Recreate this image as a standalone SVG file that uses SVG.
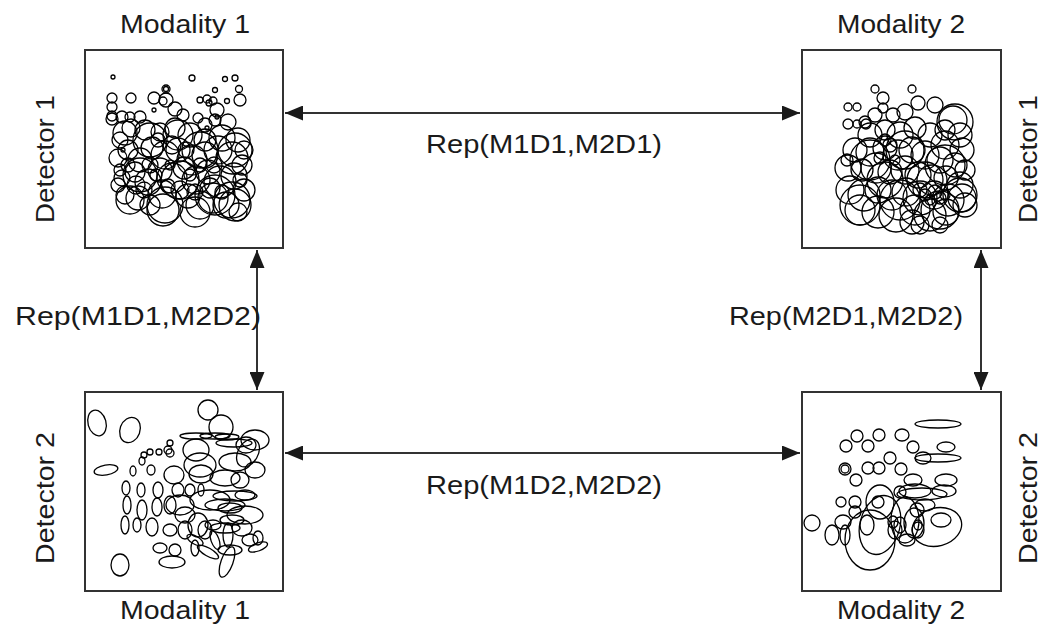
<svg xmlns="http://www.w3.org/2000/svg" width="1043" height="632" viewBox="0 0 1043 632">
  <style>
    .frame { fill: #ffffff; stroke: #333333; stroke-width: 2; }
    .blobs circle, .blobs ellipse { fill: none; stroke: #000000; stroke-width: 1.3; }
    .link { stroke: #333333; stroke-width: 2; fill: none; }
    .lbl { font-family: "Liberation Sans", Arial, sans-serif; font-size: 26px; fill: #1a1a1a; text-anchor: middle; }
  </style>
  <defs>
    <marker id="head" viewBox="0 0 18 15" refX="18" refY="7.5" markerWidth="18" markerHeight="15" markerUnits="userSpaceOnUse" orient="auto-start-reverse">
      <path d="M0,0 L18,7.5 L0,15 Z" fill="#1a1a1a"/>
    </marker>
  </defs>
  <rect width="1043" height="632" fill="#ffffff"/>

  <!-- connectors -->
  <g id="connectors">
    <line class="link" x1="285" y1="113" x2="800" y2="113" marker-start="url(#head)" marker-end="url(#head)"/>
    <line class="link" x1="285" y1="453" x2="800" y2="453" marker-start="url(#head)" marker-end="url(#head)"/>
    <line class="link" x1="257" y1="250" x2="257" y2="390" marker-start="url(#head)" marker-end="url(#head)"/>
    <line class="link" x1="981" y1="250" x2="981" y2="390" marker-start="url(#head)" marker-end="url(#head)"/>
    <text class="lbl" x="544" y="153" textLength="236" lengthAdjust="spacingAndGlyphs">Rep(M1D1,M2D1)</text>
    <text class="lbl" x="138" y="325" textLength="246" lengthAdjust="spacingAndGlyphs">Rep(M1D1,M2D2)</text>
    <text class="lbl" x="846" y="325" textLength="234" lengthAdjust="spacingAndGlyphs">Rep(M2D1,M2D2)</text>
    <text class="lbl" x="544" y="494" textLength="236" lengthAdjust="spacingAndGlyphs">Rep(M1D2,M2D2)</text>
  </g>

  <!-- modality 1, detector 1 -->
  <g id="m1d1">
    <rect class="frame" x="85" y="50" width="198" height="198"/>
    <text class="lbl" x="185" y="33" textLength="130" lengthAdjust="spacingAndGlyphs">Modality 1</text>
    <text class="lbl" transform="translate(54,159) rotate(-90)" textLength="128" lengthAdjust="spacingAndGlyphs">Detector 1</text>
    <g class="blobs">
      <circle cx="113" cy="77" r="2"/><circle cx="192" cy="78" r="3"/><circle cx="225" cy="79" r="2.5"/><circle cx="235" cy="78" r="3"/>
      <circle cx="215" cy="90" r="2.5"/><circle cx="239" cy="89" r="3.5"/><circle cx="240" cy="100" r="6"/><circle cx="166" cy="89" r="4"/><circle cx="166" cy="89" r="2.5"/>
      <circle cx="112" cy="98" r="5"/><circle cx="131" cy="98" r="5"/><circle cx="154" cy="98" r="6"/><circle cx="166" cy="100" r="7"/><circle cx="163" cy="101" r="4"/>
      <circle cx="200" cy="100" r="3"/><circle cx="207" cy="99" r="4"/><circle cx="213" cy="101" r="4"/><circle cx="209" cy="103" r="3"/><circle cx="227" cy="101" r="2.5"/>
      <circle cx="217" cy="110" r="7"/><circle cx="217" cy="117" r="2"/><circle cx="154" cy="110" r="2"/><circle cx="175" cy="109" r="7"/>
      <circle cx="112" cy="107" r="5"/><circle cx="112" cy="116" r="5"/><circle cx="122" cy="117" r="6"/><circle cx="130" cy="117" r="5"/><circle cx="140" cy="117" r="6"/><circle cx="112" cy="119" r="6"/>
      <circle cx="120" cy="140" r="8"/><circle cx="131" cy="128" r="9"/><circle cx="145" cy="130" r="10"/><circle cx="160" cy="132" r="9"/><circle cx="175" cy="128" r="10"/>
      <circle cx="190" cy="135" r="12"/><circle cx="205" cy="140" r="11"/><circle cx="222" cy="138" r="13"/><circle cx="238" cy="140" r="12"/>
      <circle cx="118" cy="158" r="9"/><circle cx="128" cy="150" r="10"/><circle cx="140" cy="160" r="12"/><circle cx="152" cy="148" r="11"/><circle cx="165" cy="155" r="14"/>
      <circle cx="178" cy="150" r="12"/><circle cx="192" cy="160" r="15"/><circle cx="205" cy="155" r="13"/><circle cx="218" cy="150" r="14"/><circle cx="232" cy="158" r="16"/><circle cx="242" cy="165" r="10"/>
      <circle cx="122" cy="178" r="8"/><circle cx="135" cy="172" r="10"/><circle cx="148" cy="182" r="13"/><circle cx="160" cy="170" r="12"/><circle cx="172" cy="178" r="15"/>
      <circle cx="184" cy="168" r="11"/><circle cx="196" cy="180" r="14"/><circle cx="208" cy="172" r="12"/><circle cx="220" cy="182" r="16"/><circle cx="234" cy="176" r="13"/><circle cx="244" cy="190" r="11"/>
      <circle cx="125" cy="195" r="9"/><circle cx="138" cy="198" r="12"/><circle cx="150" cy="205" r="10"/><circle cx="163" cy="210" r="16"/><circle cx="162" cy="194" r="14"/>
      <circle cx="188" cy="196" r="12"/><circle cx="200" cy="205" r="14"/><circle cx="213" cy="198" r="15"/><circle cx="226" cy="205" r="13"/><circle cx="232" cy="200" r="18"/><circle cx="238" cy="212" r="9"/>
      <circle cx="118" cy="185" r="7"/><circle cx="144" cy="190" r="8"/><circle cx="168" cy="186" r="7"/><circle cx="180" cy="190" r="9"/><circle cx="195" cy="192" r="8"/><circle cx="210" cy="188" r="10"/><circle cx="222" cy="192" r="7"/>
      <circle cx="156" cy="175" r="6"/><circle cx="170" cy="165" r="5"/><circle cx="190" cy="175" r="6"/><circle cx="200" cy="165" r="7"/><circle cx="214" cy="165" r="8"/>
      <circle cx="186" cy="150" r="8"/><circle cx="172" cy="145" r="9"/><circle cx="150" cy="165" r="8"/><circle cx="136" cy="185" r="9"/><circle cx="128" cy="165" r="7"/>
      <circle cx="120" cy="170" r="6"/><circle cx="240" cy="180" r="7"/><circle cx="244" cy="150" r="9"/><circle cx="158" cy="140" r="7"/><circle cx="205" cy="125" r="7"/>
      <circle cx="215" cy="120" r="6"/><circle cx="228" cy="122" r="8"/><circle cx="198" cy="118" r="5"/><circle cx="183" cy="115" r="6"/><circle cx="123" cy="150" r="2"/><circle cx="207" cy="128" r="2"/>
      <!-- larger overlapping rings -->
      <circle cx="150" cy="140" r="17"/><circle cx="200" cy="150" r="18"/><circle cx="235" cy="150" r="17"/><circle cx="180" cy="180" r="19"/>
      <circle cx="140" cy="175" r="17"/><circle cx="215" cy="195" r="20"/><circle cx="165" cy="205" r="18"/><circle cx="130" cy="200" r="14"/>
      <circle cx="235" cy="205" r="16"/><circle cx="195" cy="212" r="15"/><circle cx="125" cy="133" r="12"/><circle cx="178" cy="135" r="15"/>
    </g>
  </g>

  <!-- modality 2, detector 1 -->
  <g id="m2d1">
    <rect class="frame" x="802" y="50" width="199" height="198"/>
    <text class="lbl" x="901" y="33" textLength="128" lengthAdjust="spacingAndGlyphs">Modality 2</text>
    <text class="lbl" transform="translate(1037,159) rotate(-90)" textLength="128" lengthAdjust="spacingAndGlyphs">Detector 1</text>
    <g class="blobs">
      <circle cx="875" cy="89" r="4"/><circle cx="912" cy="89" r="4"/><circle cx="883" cy="98" r="6"/><circle cx="883" cy="108" r="5"/>
      <circle cx="848" cy="107" r="4"/><circle cx="857" cy="107" r="4"/><circle cx="848" cy="124" r="5"/><circle cx="857" cy="124" r="4"/><circle cx="866" cy="124" r="5"/>
      <circle cx="918" cy="103" r="7"/><circle cx="935" cy="105" r="8"/><circle cx="953" cy="120" r="14"/><circle cx="960" cy="135" r="12"/><circle cx="945" cy="130" r="10"/>
      <circle cx="905" cy="112" r="8"/><circle cx="893" cy="115" r="7"/><circle cx="875" cy="115" r="7"/><circle cx="865" cy="122" r="6"/>
      <circle cx="870" cy="135" r="12"/><circle cx="885" cy="130" r="10"/><circle cx="900" cy="135" r="13"/><circle cx="915" cy="128" r="11"/><circle cx="930" cy="135" r="12"/><circle cx="945" cy="145" r="14"/><circle cx="962" cy="150" r="12"/>
      <circle cx="855" cy="150" r="12"/><circle cx="870" cy="152" r="14"/><circle cx="885" cy="148" r="12"/><circle cx="898" cy="155" r="15"/><circle cx="912" cy="150" r="13"/>
      <circle cx="925" cy="155" r="14"/><circle cx="940" cy="160" r="13"/><circle cx="955" cy="165" r="12"/><circle cx="965" cy="170" r="10"/>
      <circle cx="848" cy="168" r="13"/><circle cx="862" cy="170" r="11"/><circle cx="876" cy="168" r="15"/><circle cx="890" cy="172" r="12"/><circle cx="905" cy="170" r="14"/>
      <circle cx="918" cy="175" r="13"/><circle cx="932" cy="180" r="15"/><circle cx="946" cy="178" r="12"/><circle cx="960" cy="185" r="13"/>
      <circle cx="850" cy="190" r="14"/><circle cx="864" cy="195" r="16"/><circle cx="878" cy="190" r="13"/><circle cx="892" cy="195" r="15"/><circle cx="906" cy="192" r="14"/>
      <circle cx="920" cy="198" r="17"/><circle cx="934" cy="195" r="14"/><circle cx="948" cy="200" r="16"/><circle cx="962" cy="198" r="14"/>
      <circle cx="860" cy="210" r="15"/><circle cx="878" cy="212" r="16"/><circle cx="896" cy="215" r="17"/><circle cx="915" cy="210" r="15"/><circle cx="930" cy="215" r="16"/>
      <circle cx="946" cy="212" r="13"/><circle cx="965" cy="205" r="12"/><circle cx="940" cy="225" r="8"/><circle cx="920" cy="225" r="9"/>
      <circle cx="885" cy="140" r="6"/><circle cx="890" cy="145" r="7"/><circle cx="895" cy="160" r="5"/><circle cx="880" cy="158" r="6"/><circle cx="925" cy="195" r="6"/>
      <circle cx="935" cy="192" r="7"/><circle cx="930" cy="200" r="5"/><circle cx="940" cy="198" r="6"/><circle cx="920" cy="190" r="7"/><circle cx="945" cy="195" r="5"/><circle cx="847" cy="160" r="6"/>
      <!-- larger overlapping rings -->
      <circle cx="955" cy="122" r="18"/><circle cx="870" cy="160" r="20"/><circle cx="905" cy="150" r="19"/><circle cx="945" cy="165" r="20"/>
      <circle cx="860" cy="205" r="20"/><circle cx="900" cy="200" r="20"/><circle cx="940" cy="210" r="19"/><circle cx="960" cy="195" r="17"/>
      <circle cx="885" cy="180" r="18"/><circle cx="925" cy="180" r="18"/><circle cx="912" cy="222" r="12"/>
    </g>
  </g>

  <!-- modality 1, detector 2 -->
  <g id="m1d2">
    <rect class="frame" x="85" y="392" width="198" height="199"/>
    <text class="lbl" x="185" y="619" textLength="130" lengthAdjust="spacingAndGlyphs">Modality 1</text>
    <text class="lbl" transform="translate(54,498) rotate(-90)" textLength="132" lengthAdjust="spacingAndGlyphs">Detector 2</text>
    <g class="blobs">
      <ellipse cx="97" cy="423" rx="9" ry="13" transform="rotate(-15 97 423)"/><ellipse cx="130" cy="430" rx="10" ry="13" transform="rotate(20 130 430)"/>
      <circle cx="208" cy="410" r="10"/><circle cx="221" cy="427" r="12"/><ellipse cx="215" cy="436" rx="15" ry="3"/><ellipse cx="227" cy="437" rx="12" ry="3"/>
      <ellipse cx="255" cy="440" rx="14" ry="10"/><ellipse cx="248" cy="453" rx="10" ry="15" transform="rotate(30 248 453)"/>
      <circle cx="170" cy="443" r="3"/><circle cx="168" cy="450" r="4"/><circle cx="159" cy="452" r="3"/><circle cx="150" cy="452" r="3"/><circle cx="170" cy="453" r="4"/><circle cx="144" cy="455" r="3"/>
      <ellipse cx="196" cy="450" rx="13" ry="11"/><ellipse cx="196" cy="436" rx="16" ry="3"/><ellipse cx="234" cy="443" rx="18" ry="4"/><ellipse cx="246" cy="445" rx="10" ry="8"/>
      <ellipse cx="106" cy="470" rx="12" ry="5" transform="rotate(-10 106 470)"/><ellipse cx="133" cy="471" rx="3" ry="5"/><ellipse cx="142" cy="461" rx="3" ry="4"/><ellipse cx="151" cy="470" rx="4" ry="5"/>
      <ellipse cx="174" cy="475" rx="10" ry="9"/><ellipse cx="201" cy="474" rx="12" ry="9"/><ellipse cx="225" cy="478" rx="15" ry="8"/><ellipse cx="240" cy="480" rx="9" ry="8"/><ellipse cx="255" cy="470" rx="10" ry="8"/>
      <ellipse cx="126" cy="488" rx="4" ry="7"/><ellipse cx="141" cy="490" rx="4" ry="7"/><ellipse cx="158" cy="490" rx="5" ry="8"/><ellipse cx="178" cy="490" rx="6" ry="7"/><ellipse cx="190" cy="490" rx="5" ry="6"/><ellipse cx="201" cy="490" rx="3" ry="6"/>
      <ellipse cx="235" cy="496" rx="22" ry="5"/><ellipse cx="210" cy="500" rx="20" ry="10"/><ellipse cx="225" cy="505" rx="20" ry="6"/><ellipse cx="230" cy="508" rx="12" ry="5"/><ellipse cx="245" cy="495" rx="10" ry="5"/>
      <ellipse cx="127" cy="505" rx="4" ry="9"/><ellipse cx="142" cy="510" rx="5" ry="10"/><ellipse cx="157" cy="507" rx="5" ry="9"/><ellipse cx="170" cy="505" rx="6" ry="9"/><ellipse cx="185" cy="515" rx="10" ry="8"/>
      <ellipse cx="125" cy="525" rx="4" ry="9"/><ellipse cx="137" cy="525" rx="4" ry="7"/><ellipse cx="152" cy="527" rx="6" ry="9"/><ellipse cx="170" cy="530" rx="7" ry="6"/><ellipse cx="185" cy="530" rx="7" ry="9"/>
      <ellipse cx="198" cy="525" rx="10" ry="12"/><ellipse cx="205" cy="530" rx="7" ry="9"/><ellipse cx="195" cy="540" rx="9" ry="4" transform="rotate(30 195 540)"/><ellipse cx="213" cy="525" rx="8" ry="5"/>
      <ellipse cx="225" cy="528" rx="15" ry="5"/><ellipse cx="232" cy="520" rx="12" ry="5"/><ellipse cx="215" cy="540" rx="4" ry="10" transform="rotate(-20 215 540)"/><ellipse cx="228" cy="535" rx="5" ry="12"/>
      <ellipse cx="242" cy="528" rx="10" ry="8"/><ellipse cx="250" cy="540" rx="8" ry="6"/><ellipse cx="258" cy="538" rx="5" ry="7"/><ellipse cx="195" cy="548" rx="4" ry="8"/><ellipse cx="230" cy="550" rx="12" ry="5"/>
      <ellipse cx="258" cy="547" rx="10" ry="4" transform="rotate(-20 258 547)"/><ellipse cx="160" cy="548" rx="7" ry="5"/><ellipse cx="175" cy="550" rx="6" ry="6"/><ellipse cx="208" cy="552" rx="12" ry="4" transform="rotate(30 208 552)"/>
      <ellipse cx="172" cy="562" rx="13" ry="6"/><ellipse cx="120" cy="565" rx="9" ry="11"/><ellipse cx="227" cy="562" rx="6" ry="16" transform="rotate(20 227 562)"/>
      <ellipse cx="200" cy="465" rx="16" ry="12"/><ellipse cx="235" cy="462" rx="16" ry="9"/><ellipse cx="245" cy="515" rx="18" ry="9"/><ellipse cx="180" cy="505" rx="14" ry="10"/>
    </g>
  </g>

  <!-- modality 2, detector 2 -->
  <g id="m2d2">
    <rect class="frame" x="802" y="392" width="199" height="199"/>
    <text class="lbl" x="901" y="619" textLength="128" lengthAdjust="spacingAndGlyphs">Modality 2</text>
    <text class="lbl" transform="translate(1037,498) rotate(-90)" textLength="132" lengthAdjust="spacingAndGlyphs">Detector 2</text>
    <g class="blobs">
      <ellipse cx="938" cy="424" rx="23" ry="4"/><circle cx="857" cy="436" r="6"/><circle cx="879" cy="435" r="6"/><ellipse cx="902" cy="435" rx="7" ry="6"/>
      <circle cx="846" cy="446" r="6"/><circle cx="868" cy="446" r="6"/><circle cx="913" cy="447" r="6"/><ellipse cx="946" cy="447" rx="9" ry="5"/>
      <circle cx="890" cy="458" r="6"/><ellipse cx="938" cy="458" rx="23" ry="4"/><ellipse cx="923" cy="458" rx="8" ry="6"/>
      <circle cx="845" cy="469" r="6"/><circle cx="845" cy="469" r="4"/><circle cx="868" cy="468" r="6"/><circle cx="879" cy="468" r="6"/><circle cx="901" cy="469" r="6"/>
      <circle cx="856" cy="480" r="6"/><ellipse cx="913" cy="480" rx="9" ry="6"/><ellipse cx="946" cy="480" rx="11" ry="6"/>
      <ellipse cx="915" cy="491" rx="16" ry="7"/><ellipse cx="944" cy="491" rx="12" ry="6"/><ellipse cx="922" cy="494" rx="25" ry="6"/>
      <ellipse cx="880" cy="502" rx="14" ry="17"/><circle cx="855" cy="502" r="6"/><circle cx="841" cy="502" r="5"/><circle cx="878" cy="502" r="6"/><circle cx="900" cy="492" r="6"/>
      <ellipse cx="880" cy="525" rx="20" ry="30" transform="rotate(15 880 525)"/><ellipse cx="870" cy="540" rx="25" ry="30"/><ellipse cx="905" cy="520" rx="14" ry="23"/>
      <ellipse cx="914" cy="523" rx="10" ry="15"/><circle cx="917" cy="510" r="7"/><ellipse cx="925" cy="505" rx="10" ry="6"/><ellipse cx="941" cy="520" rx="10" ry="7"/>
      <ellipse cx="937" cy="527" rx="25" ry="19" transform="rotate(-15 937 527)"/><circle cx="812" cy="523" r="8"/><ellipse cx="832" cy="535" rx="7" ry="10"/>
      <ellipse cx="845" cy="535" rx="5" ry="10"/><ellipse cx="843" cy="522" rx="8" ry="7"/><circle cx="855" cy="512" r="6"/><ellipse cx="867" cy="525" rx="7" ry="10"/>
      <ellipse cx="895" cy="530" rx="7" ry="9"/><ellipse cx="900" cy="525" rx="6" ry="8"/><ellipse cx="918" cy="530" rx="6" ry="8"/><ellipse cx="907" cy="540" rx="8" ry="6"/>
      <ellipse cx="918" cy="525" rx="4" ry="5"/><ellipse cx="893" cy="522" rx="5" ry="6"/>
    </g>
  </g>
</svg>
